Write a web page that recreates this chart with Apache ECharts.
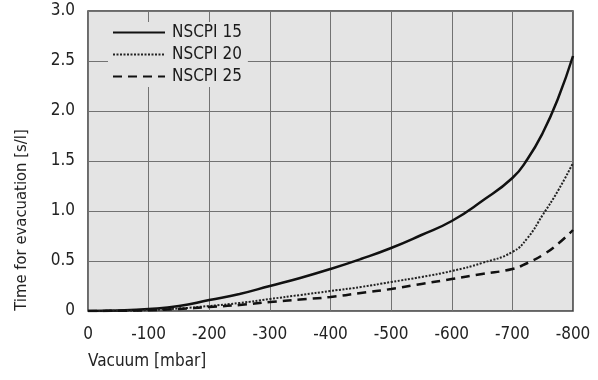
<!DOCTYPE html>
<html><head><meta charset="utf-8">
<script src="https://cdn.jsdelivr.net/npm/echarts@6/dist/echarts.min.js"></script>
<style>html,body{margin:0;padding:0;background:#fff}#c{width:598px;height:380px}</style>
</head><body><div id="c"></div>
<script>
const vacuum = [0, -50, -100, -150, -200, -250, -300, -350, -400, -450, -500, -550, -600, -650, -700, -725, -750, -775, -800];
const nscpi15 = [0, 0.005, 0.02, 0.05, 0.11, 0.17, 0.25, 0.33, 0.42, 0.52, 0.63, 0.76, 0.90, 1.10, 1.33, 1.52, 1.78, 2.12, 2.55];
const nscpi20 = [0, 0.003, 0.01, 0.025, 0.05, 0.08, 0.12, 0.16, 0.20, 0.24, 0.29, 0.34, 0.40, 0.48, 0.59, 0.73, 0.96, 1.20, 1.48];
const nscpi25 = [0, 0.002, 0.008, 0.02, 0.04, 0.06, 0.09, 0.115, 0.14, 0.18, 0.22, 0.27, 0.32, 0.37, 0.42, 0.48, 0.56, 0.67, 0.81];
const seriesNames = ['NSCPI 15', 'NSCPI 20', 'NSCPI 25'];
const yTicks = [0, 0.5, 1.0, 1.5, 2.0, 2.5, 3.0];
const xName = 'Vacuum [mbar]';
const yName = 'Time for evacuation [s/l]';

const font = '"DejaVu Sans Condensed", "Liberation Sans Narrow", sans-serif';
const chart = echarts.init(document.getElementById('c'));
const mk = arr => vacuum.map((v, i) => [v, arr[i]]);
chart.setOption({
  animation: false,
  backgroundColor: '#fff',
  grid: { left: 88, right: 25, top: 11, bottom: 69, show: true, backgroundColor: '#e4e4e4', borderColor: '#3a3a3a', borderWidth: 1.5 },
  legend: {
    left: 108, top: 22, orient: 'vertical', itemGap: 5, itemWidth: 52, itemHeight: 17,
    backgroundColor: '#e4e4e4', padding: [2, 6, 2, 4],
    itemStyle: { opacity: 0 },
    textStyle: { fontFamily: font, fontSize: 17, color: '#1a1a1a', padding: [0, 0, 0, 2] },
    data: seriesNames
  },
  xAxis: {
    type: 'value', min: -800, max: 0, interval: 100, inverse: true,
    axisLine: { show: false }, axisTick: { show: false },
    axisLabel: { fontFamily: font, fontSize: 17, color: '#222', margin: 15 },
    splitLine: { lineStyle: { color: '#727272', width: 1 } }
  },
  yAxis: {
    type: 'value', min: 0, max: 3, interval: 0.5,
    axisLine: { show: false }, axisTick: { show: false },
    axisLabel: { fontFamily: font, fontSize: 17, color: '#222', margin: 13,
      formatter: v => { const t = yTicks.find(k => Math.abs(k - v) < 1e-9); return t === 0 ? '0' : (t !== undefined ? t.toFixed(1) : ''); } },
    splitLine: { lineStyle: { color: '#727272', width: 1 } }
  },
  graphic: [
    { type: 'text', left: 88, top: 353, style: { text: xName, fontFamily: font, fontSize: 17, fill: '#222' } },
    { type: 'text', x: 22, y: 220, rotation: Math.PI / 2, style: { text: yName, fontFamily: font, fontSize: 16.5, fill: '#222', align: 'center', verticalAlign: 'middle' } }
  ],
  series: [
    { name: seriesNames[0], type: 'line', smooth: true, symbol: 'none', data: mk(nscpi15), lineStyle: { color: '#111', width: 2.5, type: 'solid' }, itemStyle: { color: '#111' } },
    { name: seriesNames[1], type: 'line', smooth: true, symbol: 'none', data: mk(nscpi20), lineStyle: { color: '#222', width: 2, type: [2, 1.5] }, itemStyle: { color: '#222' } },
    { name: seriesNames[2], type: 'line', smooth: true, symbol: 'none', data: mk(nscpi25), lineStyle: { color: '#111', width: 2.5, type: [9, 6] }, itemStyle: { color: '#111' } }
  ]
});
</script></body></html>
